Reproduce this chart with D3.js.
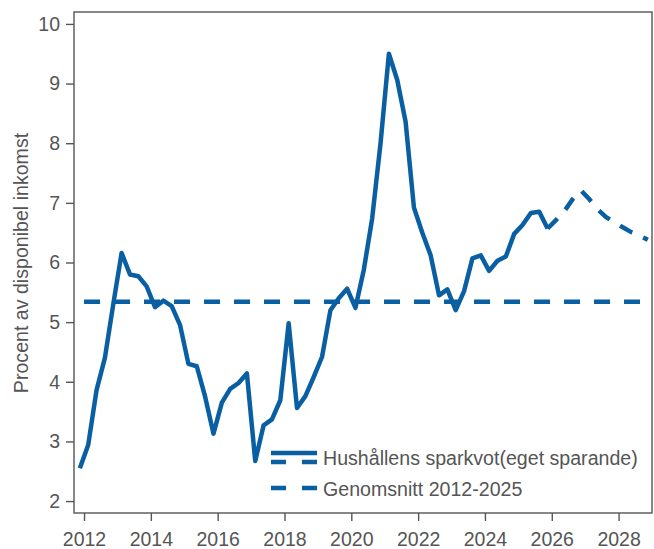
<!DOCTYPE html>
<html>
<head>
<meta charset="utf-8">
<title>Hushållens sparkvot</title>
<script src="https://cdn.jsdelivr.net/npm/d3@7"></script>
<style>
	body{ margin:0; background:#fff; }
	svg{ display:block; font-family:"Liberation Sans", Arial, sans-serif; }
	.axis path, .axis line{ stroke:#555; stroke-width:1.4px; }
	.axis text{ fill:#555; font-size:19.5px; }
	.frame{ fill:none; stroke:#555; stroke-width:1.4px; }
	.legendText{ fill:#555; font-size:19.6px; }
</style>
</head>
<body>
<div id="chart"></div>
<script>
// kvartal, utfall
var quarters = [
	'2011Q4','2012Q1','2012Q2','2012Q3','2012Q4','2013Q1','2013Q2','2013Q3','2013Q4',
	'2014Q1','2014Q2','2014Q3','2014Q4','2015Q1','2015Q2','2015Q3','2015Q4',
	'2016Q1','2016Q2','2016Q3','2016Q4','2017Q1','2017Q2','2017Q3','2017Q4',
	'2018Q1','2018Q2','2018Q3','2018Q4','2019Q1','2019Q2','2019Q3','2019Q4',
	'2020Q1','2020Q2','2020Q3','2020Q4','2021Q1','2021Q2','2021Q3','2021Q4',
	'2022Q1','2022Q2','2022Q3','2022Q4','2023Q1','2023Q2','2023Q3','2023Q4',
	'2024Q1','2024Q2','2024Q3','2024Q4','2025Q1','2025Q2','2025Q3','2025Q4'
];
var savings = [
	2.55, 2.94, 3.86, 4.40, 5.30, 6.16, 5.80, 5.77, 5.60,
	5.25, 5.36, 5.27, 4.95, 4.30, 4.26, 3.75, 3.13,
	3.65, 3.88, 3.98, 4.14, 2.67, 3.27, 3.37, 3.69,
	4.98, 3.56, 3.76, 4.08, 4.42, 5.20, 5.40, 5.56,
	5.24, 5.88, 6.74, 8.00, 9.50, 9.06, 8.36, 6.92,
	6.50, 6.12, 5.45, 5.55, 5.20, 5.52, 6.07, 6.12,
	5.86, 6.03, 6.10, 6.48, 6.63, 6.83, 6.85, 6.57
];
// prognos (startar i sista utfallet)
var forecastQuarters = [
	'2025Q4','2026Q1','2026Q2','2026Q3','2026Q4','2027Q1','2027Q2',
	'2027Q3','2027Q4','2028Q1','2028Q2','2028Q3','2028Q4'
];
var forecast = [6.57, 6.71, 6.86, 7.06, 7.21, 7.06, 6.89, 6.76, 6.68, 6.59, 6.51, 6.45, 6.38];
// genomsnitt 2012-2025
var average = 5.34;
var averageSpan = [2012, 2029];

var xTicks = [2012, 2014, 2016, 2018, 2020, 2022, 2024, 2026, 2028];
var yTicks = [2, 3, 4, 5, 6, 7, 8, 9, 10];
var legendLabels = ['Hushållens sparkvot(eget sparande)', 'Genomsnitt 2012-2025'];

var width = 654, height = 549;
var plotLeft = 74, plotRight = 652, plotTop = 12, plotBottom = 513;
var blue = '#0a5fa3';

function qToYear(q){ // mitten av kvartalet
	return +q.slice(0, 4) + (+q.slice(5) - 0.5) / 4;
}

var svg = d3.select('#chart').append('svg')
	.attr('width', width)
	.attr('height', height);

var x = d3.scaleLinear().domain([2011.7, 2029]).range([plotLeft, plotRight]);
var y = d3.scaleLinear().domain([1.8, 10.2]).range([plotBottom, plotTop]);

var line = d3.line()
	.x(function(d){ return x(d[0]); })
	.y(function(d){ return y(d[1]); });

svg.append('rect')
	.attr('class', 'frame')
	.attr('x', plotLeft).attr('y', plotTop)
	.attr('width', plotRight - plotLeft).attr('height', plotBottom - plotTop);

// genomsnitt
svg.append('path')
	.attr('d', line(averageSpan.map(function(yr){ return [yr, average]; })))
	.attr('fill', 'none')
	.attr('stroke', blue)
	.attr('stroke-width', 4.5)
	.attr('stroke-dasharray', '16,14');

// utfall
svg.append('path')
	.attr('d', line(quarters.map(function(q, i){ return [qToYear(q), savings[i]]; })))
	.attr('fill', 'none')
	.attr('stroke', blue)
	.attr('stroke-width', 4.5)
	.attr('stroke-linejoin', 'round');

// prognos
svg.append('path')
	.attr('d', line(forecastQuarters.map(function(q, i){ return [qToYear(q), forecast[i]]; })))
	.attr('fill', 'none')
	.attr('stroke', blue)
	.attr('stroke-width', 4.5)
	.attr('stroke-dasharray', '14,12');

var xAxisG = svg.append('g')
	.attr('class', 'axis')
	.attr('transform', 'translate(0,' + plotBottom + ')')
	.call(d3.axisBottom(x).tickValues(xTicks).tickFormat(d3.format('d')).tickSize(8).tickPadding(11).tickSizeOuter(0));

var yAxisG = svg.append('g')
	.attr('class', 'axis')
	.attr('transform', 'translate(' + plotLeft + ',0)')
	.call(d3.axisLeft(y).tickValues(yTicks).tickSize(8).tickPadding(6).tickSizeOuter(0));

xAxisG.select('.domain').remove();
yAxisG.select('.domain').remove();

svg.append('text')
	.attr('class', 'legendText')
	.attr('transform', 'translate(28,263) rotate(-90)')
	.attr('text-anchor', 'middle')
	.text('Procent av disponibel inkomst');

// legend
var lx = 271, lw = 46;
var legend = svg.append('g');
legend.append('line')
	.attr('x1', lx).attr('x2', lx + lw).attr('y1', 453).attr('y2', 453)
	.attr('stroke', blue).attr('stroke-width', 4.5);
legend.append('line')
	.attr('x1', lx).attr('x2', lx + lw).attr('y1', 462).attr('y2', 462)
	.attr('stroke', blue).attr('stroke-width', 4.5).attr('stroke-dasharray', '15,16');
legend.append('line')
	.attr('x1', lx).attr('x2', lx + lw).attr('y1', 488).attr('y2', 488)
	.attr('stroke', blue).attr('stroke-width', 4.5).attr('stroke-dasharray', '15,16');

legend.selectAll('.lt')
	.data(legendLabels)
	.enter()
	.append('text')
	.attr('class', 'legendText')
	.attr('x', lx + lw + 6)
	.attr('y', function(d, i){ return i === 0 ? 458 : 489; })
	.attr('dy', '0.35em')
	.text(function(d){ return d; });
</script>
</body>
</html>
